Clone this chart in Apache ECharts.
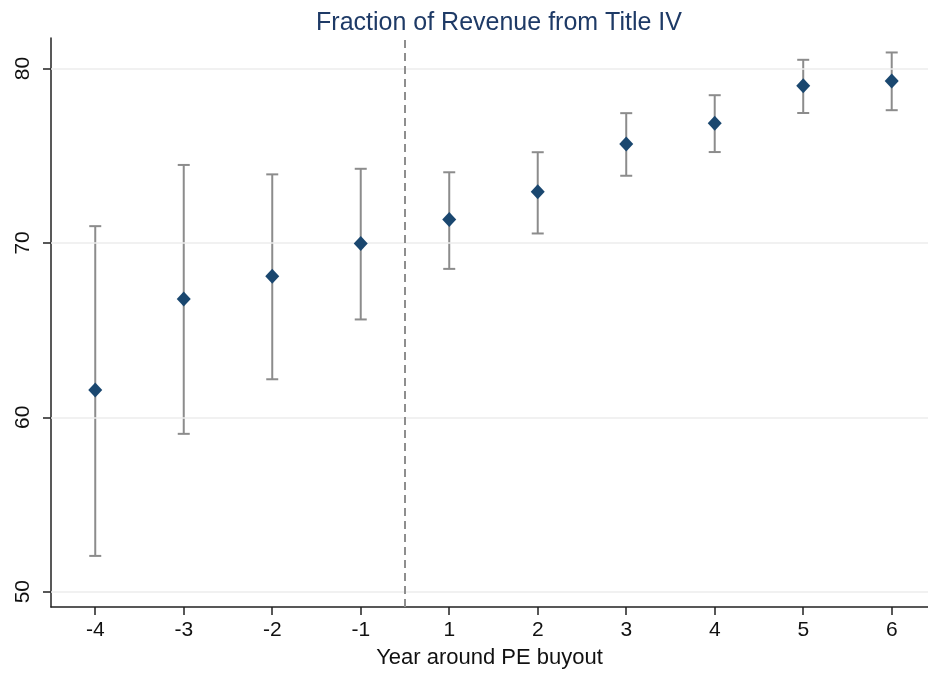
<!DOCTYPE html>
<html>
<head>
<meta charset="utf-8">
<script src="https://cdn.jsdelivr.net/npm/echarts@6/dist/echarts.min.js"></script>
<style>
  html, body { margin: 0; padding: 0; background: #fff; }
  #main { width: 928px; height: 675px; }
</style>
</head>
<body>
<div id="main"></div>
<script>
// years relative to the buyout (no year 0)
var years = ["-4", "-3", "-2", "-1", "1", "2", "3", "4", "5", "6"];
// point estimates and 95% CI bounds
var estimate = [61.57, 66.78, 68.09, 69.97, 71.34, 72.93, 75.67, 76.86, 79.01, 79.29];
var ciLow = [52.05, 59.05, 62.18, 65.61, 68.51, 70.54, 73.85, 75.21, 77.45, 77.61];
var ciHigh = [70.96, 74.47, 73.93, 74.25, 74.05, 75.20, 77.44, 78.47, 80.50, 80.92];
var yTicks = [50, 60, 70, 80];

var myChart = echarts.init(document.getElementById("main"));

var positions = years.map(function (y, i) { return i; });
var pointData = estimate.map(function (v, i) { return [i, v]; });
var barData = ciLow.map(function (lo, i) { return [i, lo, ciHigh[i]]; });

var option = {
  animation: false,
  textStyle: { fontFamily: "Liberation Sans, Arial, sans-serif" },
  title: {
    text: "Fraction of Revenue from Title IV",
    left: 494,
    textAlign: "center",
    top: 6,
    textStyle: { fontSize: 25, fontWeight: "normal", color: "#1e3a66" },
  },
  grid: { left: 51, right: 0, top: 38, bottom: 68, outerBoundsMode: "none" },
  xAxis: {
    type: "value",
    min: -0.5,
    max: 9.41,
    name: "Year around PE buyout",
    nameLocation: "middle",
    nameGap: 40,
    nameTextStyle: { fontSize: 22, color: "#111" },
    axisLine: { show: true, onZero: false, lineStyle: { color: "#222", width: 1.5 } },
    axisTick: { show: true, length: 8, customValues: positions, lineStyle: { color: "#222", width: 1.5 } },
    axisLabel: {
      customValues: positions,
      fontSize: 21,
      color: "#111",
      margin: 13,
      formatter: function (v) { return years[Math.round(v)]; },
    },
    splitLine: { show: false },
  },
  yAxis: {
    type: "value",
    min: 49.12,
    max: 81.75,
    axisLine: { show: true, onZero: false, lineStyle: { color: "#222", width: 1.5 } },
    axisTick: { show: true, length: 8, customValues: yTicks, lineStyle: { color: "#222", width: 1.5 } },
    axisLabel: { customValues: yTicks, rotate: 90, fontSize: 21, color: "#111", margin: 17 },
    splitLine: { show: false },
  },
  series: [
    {
      // horizontal grid lines and the buyout divider
      type: "line",
      data: [],
      silent: true,
      markLine: {
        silent: true,
        symbol: "none",
        label: { show: false },
        data: yTicks.map(function (t) {
          return { yAxis: t, lineStyle: { color: "#ececec", width: 1.5, type: "solid" } };
        }).concat([
          { xAxis: 3.5, lineStyle: { color: "#8e8e8e", width: 2, type: [8, 5] } },
        ]),
      },
    },
    {
      type: "custom",
      data: barData,
      z: 3,
      renderItem: function (params, api) {
        var x = api.value(0);
        var lo = api.coord([x, api.value(1)]);
        var hi = api.coord([x, api.value(2)]);
        var cap = 6;
        var style = { stroke: "#8c8c8c", lineWidth: 2 };
        return {
          type: "group",
          children: [
            { type: "line", shape: { x1: lo[0], y1: lo[1], x2: hi[0], y2: hi[1] }, style: style },
            { type: "line", shape: { x1: lo[0] - cap, y1: lo[1], x2: lo[0] + cap, y2: lo[1] }, style: style },
            { type: "line", shape: { x1: hi[0] - cap, y1: hi[1], x2: hi[0] + cap, y2: hi[1] }, style: style },
          ],
        };
      },
    },
    {
      type: "scatter",
      data: pointData,
      z: 5,
      symbol: "diamond",
      symbolSize: [14, 15],
      itemStyle: { color: "#1a476f", opacity: 1 },
    },
  ],
};

myChart.setOption(option);
</script>
</body>
</html>
